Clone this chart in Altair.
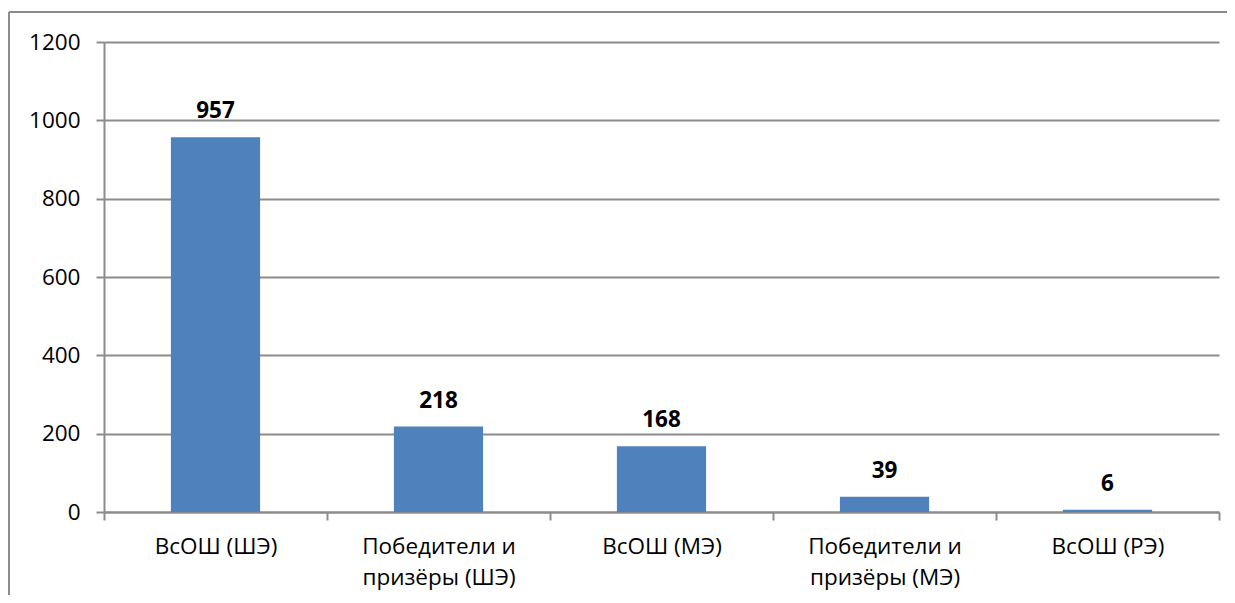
import altair as alt
import pandas as pd

categories = ["ВсОШ (ШЭ)", "Победители и\nпризёры (ШЭ)", "ВсОШ (МЭ)", "Победители и\nпризёры (МЭ)", "ВсОШ (РЭ)"]
values = [957, 218, 168, 39, 6]
y_ticks = [0, 200, 400, 600, 800, 1000, 1200]

df = pd.DataFrame({"cat": categories, "val": values})

W, H = 1115, 470
GRAY = "#8c8c8c"
FONT = "Open Sans"

x_enc = alt.X(
    "cat:N",
    sort=None,
    title=None,
    scale=alt.Scale(paddingInner=0, paddingOuter=0),
    axis=alt.Axis(
        labelAngle=0,
        labelExpr="split(datum.label, '\\n')",
        labelFont=FONT,
        labelFontSize=22.5,
        labelColor="black",
        labelLineHeight=31,
        labelPadding=15,
        tickBand="extent",
        tickSize=8,
        tickWidth=2,
        tickColor=GRAY,
        domainColor=GRAY,
        domainWidth=2,
        grid=False,
    ),
)
y_enc = alt.Y(
    "val:Q",
    title=None,
    scale=alt.Scale(domain=[0, 1200], nice=False),
    axis=alt.Axis(
        values=y_ticks,
        format="d",
        labelFont=FONT,
        labelFontSize=22.5,
        labelColor="black",
        labelPadding=16,
        tickSize=8,
        tickWidth=2,
        tickColor=GRAY,
        domainColor=GRAY,
        domainWidth=2,
        gridColor=GRAY,
        gridWidth=2,
    ),
)

bars = alt.Chart(df).mark_bar(
    color="#4F81BD", width=alt.RelativeBandSize(0.4)
).encode(x=x_enc, y=y_enc)

labels = alt.Chart(df).mark_text(
    font=FONT, fontSize=22.5, fontWeight="bold", color="black",
    baseline="alphabetic", dy=-19
).encode(x=alt.X("cat:N", sort=None), y="val:Q", text="val:Q")

frame_df = pd.DataFrame({"a": [0]})
frame_left = alt.Chart(frame_df).mark_rule(color=GRAY, strokeWidth=2).encode(
    x=alt.value(-95), y=alt.value(-30), y2=alt.value(H + 100)
)
frame_top = alt.Chart(frame_df).mark_rule(color=GRAY, strokeWidth=2).encode(
    x=alt.value(-95), x2=alt.value(W + 8), y=alt.value(-30), y2=alt.value(-30)
)

chart = alt.layer(bars, labels, frame_left, frame_top).properties(
    width=W, height=H,
    autosize=alt.AutoSizeParams(type="none"),
    padding={"left": 96, "top": 34, "right": 8, "bottom": 83},
    background="white",
).configure_view(stroke=None)

chart.save("out.html", embed_options={"renderer": "svg", "actions": False})
